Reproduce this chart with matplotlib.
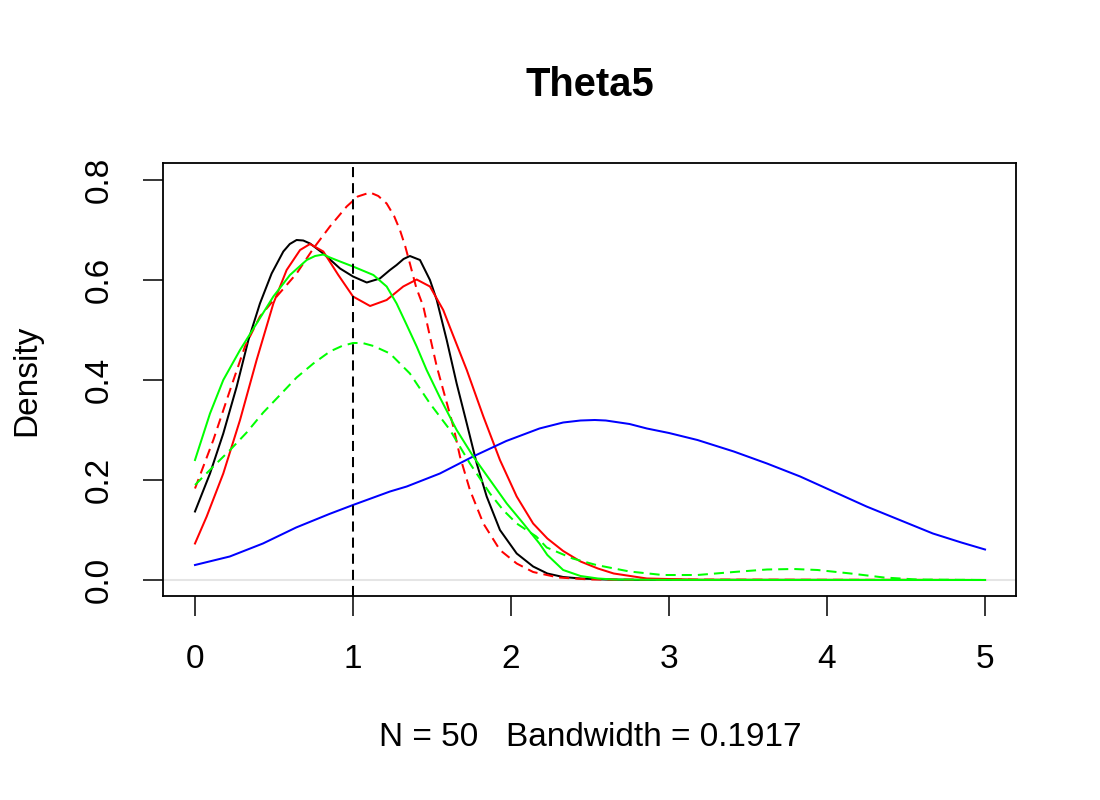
import matplotlib
matplotlib.use("Agg")
import matplotlib.pyplot as plt

plt.rcParams['font.family'] = ['Liberation Sans', 'DejaVu Sans']

# density curves
black_x = [0, 0.095, 0.179, 0.264, 0.338, 0.411, 0.485, 0.559, 0.60, 0.643, 0.685, 0.728, 0.812, 0.918,
           1.0, 1.087, 1.17, 1.234, 1.276, 1.32, 1.36, 1.424, 1.487, 1.53, 1.593, 1.656, 1.72, 1.783,
           1.846, 1.93, 2.036, 2.14, 2.23, 2.33, 2.44, 2.6, 2.8, 5.0]
black_y = [0.137, 0.213, 0.293, 0.387, 0.48, 0.553, 0.613, 0.657, 0.672, 0.68, 0.679, 0.673, 0.653, 0.623,
           0.607, 0.595, 0.603, 0.62, 0.63, 0.642, 0.648, 0.64, 0.60, 0.56, 0.48, 0.393, 0.313, 0.233,
           0.167, 0.10, 0.053, 0.027, 0.013, 0.006, 0.003, 0.001, 0.0002, 0]

red_x = [0, 0.074, 0.179, 0.285, 0.39, 0.496, 0.58, 0.665, 0.728, 0.812, 0.907, 1.0, 1.108, 1.213, 1.318,
         1.403, 1.487, 1.571, 1.614, 1.72, 1.825, 1.93, 2.036, 2.14, 2.23, 2.33, 2.44, 2.55, 2.65, 2.86,
         3.2, 5.0]
red_y = [0.073, 0.127, 0.213, 0.32, 0.44, 0.553, 0.62, 0.66, 0.672, 0.657, 0.61, 0.567, 0.548, 0.56, 0.587,
         0.601, 0.587, 0.54, 0.505, 0.42, 0.327, 0.24, 0.167, 0.113, 0.083, 0.058, 0.037, 0.023, 0.013,
         0.003, 0.0005, 0]

red2_x = [0, 0.116, 0.222, 0.316, 0.411, 0.517, 0.643, 0.749, 0.854, 0.96, 1.03, 1.108, 1.16, 1.213,
          1.26, 1.297, 1.33, 1.36, 1.40, 1.445, 1.487, 1.53, 1.571, 1.635, 1.677, 1.74, 1.825, 1.93,
          2.036, 2.14, 2.3, 2.5, 5.0]
red2_y = [0.183, 0.28, 0.38, 0.467, 0.527, 0.567, 0.613, 0.663, 0.707, 0.747, 0.767, 0.775, 0.768, 0.753,
          0.728, 0.70, 0.668, 0.633, 0.585, 0.547, 0.487, 0.427, 0.38, 0.307, 0.247, 0.18, 0.113, 0.06,
          0.033, 0.016, 0.005, 0.001, 0]

green_x = [0, 0.095, 0.179, 0.285, 0.39, 0.496, 0.601, 0.707, 0.76, 0.812, 0.854, 0.918, 1.0, 1.129,
           1.213, 1.276, 1.34, 1.403, 1.466, 1.55, 1.656, 1.761, 1.867, 1.973, 2.078, 2.18, 2.23, 2.33,
           2.44, 2.55, 2.65, 3.0, 5.0]
green_y = [0.24, 0.333, 0.40, 0.46, 0.513, 0.567, 0.61, 0.64, 0.648, 0.651, 0.645, 0.637, 0.627, 0.61,
           0.587, 0.553, 0.51, 0.467, 0.42, 0.365, 0.30, 0.247, 0.20, 0.153, 0.113, 0.073, 0.05, 0.02,
           0.008, 0.003, 0.001, 0.0002, 0]

green2_x = [0, 0.116, 0.222, 0.327, 0.432, 0.538, 0.643, 0.749, 0.854, 0.93, 1.0, 1.06, 1.13, 1.234,
            1.36, 1.487, 1.614, 1.74, 1.867, 1.95, 2.036, 2.16, 2.226, 2.39, 2.54, 2.75, 2.96, 3.18,
            3.41, 3.62, 3.79, 3.94, 4.15, 4.36, 4.57, 5.0]
green2_y = [0.19, 0.227, 0.26, 0.295, 0.335, 0.37, 0.405, 0.433, 0.457, 0.468, 0.474, 0.474, 0.468, 0.453,
            0.413, 0.353, 0.30, 0.233, 0.173, 0.14, 0.113, 0.087, 0.065, 0.043, 0.03, 0.017, 0.01, 0.01,
            0.016, 0.021, 0.022, 0.02, 0.013, 0.005, 0.001, 0]

blue_x = [0, 0.22, 0.43, 0.64, 0.85, 1.0, 1.13, 1.234, 1.34, 1.55, 1.76, 1.97, 2.18, 2.33, 2.44, 2.53, 2.6,
          2.75, 2.86, 3.0, 3.18, 3.41, 3.62, 3.83, 4.04, 4.25, 4.46, 4.67, 4.85, 5.0]
blue_y = [0.03, 0.047, 0.073, 0.105, 0.132, 0.15, 0.165, 0.177, 0.187, 0.213, 0.247, 0.278, 0.303, 0.315,
          0.319, 0.320, 0.319, 0.312, 0.303, 0.294, 0.28, 0.257, 0.233, 0.207, 0.177, 0.147, 0.12,
          0.093, 0.075, 0.061]

x_ticks = [0, 1, 2, 3, 4, 5]
y_ticks = [0.0, 0.2, 0.4, 0.6, 0.8]
true_value = 1

fig = plt.figure(figsize=(11, 8), dpi=100)
ax = fig.add_axes([163/1100, 1-596/800, (1016-163)/1100, (596-163)/800])

lw = 1.45
dash = (0, (5, 3))
ax.axhline(0, color='#e5e5e5', lw=lw)
ax.plot(black_x, black_y, color='black', lw=lw)
ax.plot(red_x, red_y, color='red', lw=lw)
ax.plot(red2_x, red2_y, color='red', lw=lw, linestyle=dash)
ax.plot(blue_x, blue_y, color='blue', lw=lw)
ax.plot(green_x, green_y, color='#00ff00', lw=lw)
ax.plot(green2_x, green2_y, color='#00ff00', lw=lw, linestyle=dash)
ax.axvline(true_value, color='black', lw=lw, linestyle=dash)

ax.set_xlim(-0.2025, 5.196)
ax.set_ylim(-0.032, 0.834)
ax.set_xticks(x_ticks)
ax.set_xticklabels([str(t) for t in x_ticks])
ax.set_yticks(y_ticks)
ax.set_yticklabels(['%.1f' % t for t in y_ticks], rotation=90, va='center')
ax.tick_params(length=14.4, width=1.1, labelsize=24, pad=20)
for s in ax.spines.values():
    s.set_linewidth(1.3)

fig.text(590/1100, 1-85/800, 'Theta5', ha='center', va='center', fontsize=28.8, fontweight='bold')
fig.text(590/1100, 1-738/800, 'N = 50   Bandwidth = 0.1917', ha='center', va='center', fontsize=24)
fig.text(27/1100, 1-380/800, 'Density', ha='center', va='center', rotation=90, fontsize=24)

fig.savefig('out.png', dpi=100)
